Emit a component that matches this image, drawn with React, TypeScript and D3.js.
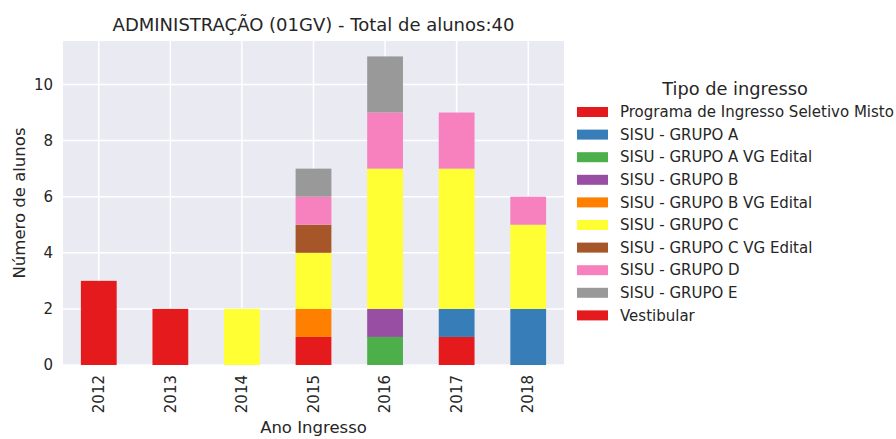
import * as d3 from 'd3'

const YEARS = ['2012', '2013', '2014', '2015', '2016', '2017', '2018']

const TYPES = [
  'Programa de Ingresso Seletivo Misto',
  'SISU - GRUPO A',
  'SISU - GRUPO A VG Edital',
  'SISU - GRUPO B',
  'SISU - GRUPO B VG Edital',
  'SISU - GRUPO C',
  'SISU - GRUPO C VG Edital',
  'SISU - GRUPO D',
  'SISU - GRUPO E',
  'Vestibular',
]

// one array per tipo de ingresso, values per year (2012..2018)
const PROGRAMA = [0, 0, 0, 1, 0, 1, 0]
const GRUPO_A = [0, 0, 0, 0, 0, 1, 2]
const GRUPO_A_VG = [0, 0, 0, 0, 1, 0, 0]
const GRUPO_B = [0, 0, 0, 0, 1, 0, 0]
const GRUPO_B_VG = [0, 0, 0, 1, 0, 0, 0]
const GRUPO_C = [0, 0, 2, 2, 5, 5, 3]
const GRUPO_C_VG = [0, 0, 0, 1, 0, 0, 0]
const GRUPO_D = [0, 0, 0, 1, 2, 2, 1]
const GRUPO_E = [0, 0, 0, 1, 2, 0, 0]
const VESTIBULAR = [3, 2, 0, 0, 0, 0, 0]

const SERIES = [PROGRAMA, GRUPO_A, GRUPO_A_VG, GRUPO_B, GRUPO_B_VG, GRUPO_C, GRUPO_C_VG, GRUPO_D, GRUPO_E, VESTIBULAR]

const Y_TICKS = [0, 2, 4, 6, 8, 10]

const COLORS = ['#e41a1c', '#377eb8', '#4daf4a', '#984ea3', '#ff7f00', '#ffff33', '#a65628', '#f781bf', '#999999', '#e41a1c']

const W = 896
const H = 439
const margin = { left: 63, right: 332, top: 41, bottom: 74 }
const FONT = 'DejaVu Sans, sans-serif'
const TEXT = '#262626'

export default function App() {
  const rows = YEARS.map((y, i) => {
    const r: Record<string, number | string> = { year: y }
    TYPES.forEach((t, j) => { r[t] = SERIES[j][i] })
    return r
  })
  const stacked = d3.stack<Record<string, number | string>>().keys(TYPES).value((d, k) => d[k] as number)(rows)

  const totals = YEARS.map((_, i) => d3.sum(SERIES, s => s[i]))
  const yMax = (d3.max(totals) ?? 0) * 1.05

  const x = d3.scaleBand<string>()
    .domain(YEARS)
    .range([margin.left, W - margin.right])
    .paddingInner(0.5)
    .paddingOuter(0.25)
  const y = d3.scaleLinear().domain([0, yMax]).range([H - margin.bottom, margin.top])

  const plotL = margin.left
  const plotR = W - margin.right
  const plotT = margin.top
  const plotB = H - margin.bottom
  const legendX = 577
  const legendY = 112
  const rowH = 22.6

  return (
    <svg width={W} height={H} style={{ position: 'absolute', left: 0, top: 0, fontFamily: FONT }}>
      <rect width={W} height={H} fill="#ffffff" />
      <rect x={plotL} y={plotT} width={plotR - plotL} height={plotB - plotT} fill="#eaeaf2" />

      {/* grid */}
      {YEARS.map(yr => (
        <line key={yr} x1={x(yr)! + x.bandwidth() / 2} x2={x(yr)! + x.bandwidth() / 2} y1={plotT} y2={plotB} stroke="#fff" strokeWidth={1.5} />
      ))}
      {Y_TICKS.map(t => (
        <line key={t} x1={plotL} x2={plotR} y1={y(t)} y2={y(t)} stroke="#fff" strokeWidth={1.5} />
      ))}

      {/* bars */}
      {stacked.map((layer, j) => (
        <g key={layer.key} fill={COLORS[j]}>
          {layer.map((d, i) => d[1] - d[0] > 0 ? (
            <rect key={i} x={x(YEARS[i])} width={x.bandwidth()} y={y(d[1])} height={y(d[0]) - y(d[1])} />
          ) : null)}
        </g>
      ))}

      {/* y axis */}
      {Y_TICKS.map(t => (
        <text key={t} x={plotL - 10} y={y(t)} dy="0.35em" textAnchor="end" fontSize={15} fill={TEXT}>{t}</text>
      ))}
      <text transform={`translate(25,${(plotT + plotB) / 2}) rotate(-90)`} textAnchor="middle" fontSize={16.5} fill={TEXT}>Número de alunos</text>

      {/* x axis */}
      {YEARS.map(yr => (
        <text key={yr} transform={`translate(${x(yr)! + x.bandwidth() / 2},${plotB + 10}) rotate(-90)`} textAnchor="end" dy="0.35em" fontSize={15} fill={TEXT}>{yr}</text>
      ))}
      <text x={(plotL + plotR) / 2} y={433} textAnchor="middle" fontSize={16.5} fill={TEXT}>Ano Ingresso</text>

      {/* title */}
      <text x={(plotL + plotR) / 2} y={31} textAnchor="middle" fontSize={18} fill={TEXT}>ADMINISTRAÇÃO (01GV) - Total de alunos:40</text>

      {/* legend */}
      <text x={735} y={95} textAnchor="middle" fontSize={17.8} fill={TEXT}>Tipo de ingresso</text>
      {TYPES.map((t, j) => (
        <g key={t} transform={`translate(${legendX},${legendY + j * rowH})`}>
          <rect x={0} y={-5} width={31} height={10} fill={COLORS[j]} />
          <text x={43} y={0} dy="0.35em" fontSize={15} fill={TEXT}>{t}</text>
        </g>
      ))}
    </svg>
  )
}
